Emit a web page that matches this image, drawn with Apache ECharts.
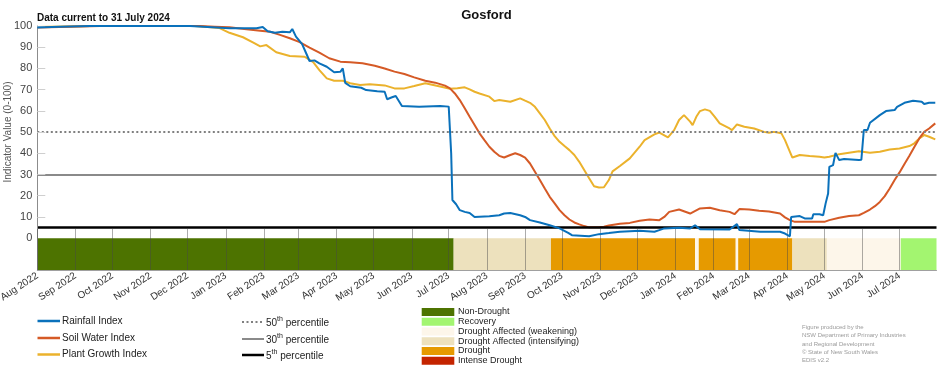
<!DOCTYPE html>
<html>
<head>
<meta charset="utf-8">
<script src="https://cdn.jsdelivr.net/npm/echarts@6/dist/echarts.min.js"></script>
<style>
html,body{margin:0;padding:0;background:#fff;}
#chart{width:952px;height:370px;}
</style>
</head>
<body>
<div id="chart"></div>
<script>
// ---------------- DATA ----------------
const chartTitle = 'Gosford';
const dataNote = 'Data current to 31 July 2024';
const seriesNames = ['Rainfall Index', 'Soil Water Index', 'Plant Growth Index'];

const monthTickDates = ['2022-08-01','2022-09-01','2022-10-01','2022-11-01','2022-12-01','2023-01-01','2023-02-01','2023-03-01','2023-04-01','2023-05-01','2023-06-01','2023-07-01','2023-08-01','2023-09-01','2023-10-01','2023-11-01','2023-12-01','2024-01-01','2024-02-01','2024-03-01','2024-04-01','2024-05-01','2024-06-01','2024-07-01'];
const monthLabels = ['Aug 2022','Sep 2022','Oct 2022','Nov 2022','Dec 2022','Jan 2023','Feb 2023','Mar 2023','Apr 2023','May 2023','Jun 2023','Jul 2023','Aug 2023','Sep 2023','Oct 2023','Nov 2023','Dec 2023','Jan 2024','Feb 2024','Mar 2024','Apr 2024','May 2024','Jun 2024','Jul 2024'];
const yTickValues = [0, 10, 20, 30, 40, 50, 60, 70, 80, 90, 100];

const rainfall = [
 ['2022-08-01',99.3],['2022-08-19',99.6],['2022-09-13',100],['2022-12-03',100],['2023-01-04',98.9],['2023-01-26',98.9],
 ['2023-01-31',99.5],['2023-02-04',97.5],['2023-02-10',96.8],['2023-02-16',97.3],['2023-02-22',97.0],['2023-02-24',98.6],
 ['2023-02-27',95.0],['2023-03-04',91.5],['2023-03-07',87.5],['2023-03-10',83.5],['2023-03-14',83.8],['2023-03-18',82.4],
 ['2023-03-24',80.8],['2023-03-30',78.2],['2023-04-04',78.4],['2023-04-06',80.0],['2023-04-08',73.2],['2023-04-12',71.6],
 ['2023-04-21',70.9],['2023-04-25',69.8],['2023-05-04',69.3],['2023-05-10',69.0],['2023-05-12',65.5],['2023-05-16',66.4],
 ['2023-05-19',67.0],['2023-05-24',62.3],['2023-06-07',61.9],['2023-06-24',62.3],['2023-07-01',62.0],['2023-07-03',40.0],
 ['2023-07-04',18.0],['2023-07-07',16.0],['2023-07-10',13.2],['2023-07-14',12.4],['2023-07-18',11.9],['2023-07-22',10.0],
 ['2023-08-03',10.3],['2023-08-11',10.8],['2023-08-15',11.6],['2023-08-20',11.9],['2023-08-28',10.8],['2023-09-01',10.0],
 ['2023-09-05',8.5],['2023-09-13',7.4],['2023-09-21',6.1],['2023-09-29',4.6],['2023-10-06',2.5],['2023-10-09',1.4],
 ['2023-10-23',0.9],['2023-10-31',1.9],['2023-11-08',2.4],['2023-11-17',3.0],['2023-12-03',3.5],['2023-12-15',3.0],
 ['2023-12-19',3.8],['2023-12-23',4.6],['2024-01-04',4.9],['2024-01-13',4.6],['2024-01-17',6.1],['2024-01-21',4.2],
 ['2024-02-14',4.1],['2024-02-20',6.6],['2024-02-22',3.8],['2024-03-10',3.0],['2024-03-26',3.0],['2024-03-30',2.2],
 ['2024-04-03',0.9],['2024-04-04',10.0],['2024-04-11',10.4],['2024-04-15',9.3],['2024-04-21',9.3],['2024-04-22',11.3],
 ['2024-04-27',11.3],['2024-04-30',10.8],['2024-05-02',16.4],['2024-05-04',21.0],['2024-05-05',33.6],['2024-05-08',34.4],
 ['2024-05-10',40.2],['2024-05-13',36.8],['2024-05-17',37.3],['2024-05-29',36.8],['2024-05-31',37.0],['2024-06-02',51.0],
 ['2024-06-05',51.0],['2024-06-07',54.4],['2024-06-15',58.0],['2024-06-20',59.9],['2024-06-27',60.4],['2024-06-29',61.9],
 ['2024-07-05',63.8],['2024-07-12',64.8],['2024-07-19',64.3],['2024-07-21',63.2],['2024-07-25',63.8],['2024-07-30',63.8]
];

const soilWater = [
 ['2022-08-01',99.3],['2022-08-19',99.5],['2022-09-21',100],['2022-12-11',100],['2022-12-23',99.7],['2023-01-04',99.4],
 ['2023-01-16',98.6],['2023-01-29',97.8],['2023-02-06',97.3],['2023-02-14',95.8],['2023-02-22',94.2],['2023-03-02',92.4],
 ['2023-03-10',89.8],['2023-03-18',87.4],['2023-03-26',84.8],['2023-04-04',83.2],['2023-04-12',82.9],['2023-04-22',82.4],
 ['2023-05-02',81.3],['2023-05-10',80.0],['2023-05-18',78.5],['2023-05-26',77.4],['2023-06-03',75.8],['2023-06-12',74.2],
 ['2023-06-20',73.3],['2023-06-28',71.9],['2023-07-02',70.6],['2023-07-06',68.2],['2023-07-10',65.1],['2023-07-14',61.2],
 ['2023-07-18',57.2],['2023-07-22',53.3],['2023-07-26',49.4],['2023-07-30',46.2],['2023-08-03',43.1],['2023-08-07',40.7],
 ['2023-08-11',38.8],['2023-08-15',38.0],['2023-08-20',39.2],['2023-08-24',40.0],['2023-08-28',39.2],['2023-09-01',38.0],
 ['2023-09-05',35.2],['2023-09-09',31.3],['2023-09-13',27.4],['2023-09-17',23.4],['2023-09-21',19.5],['2023-09-25',16.4],
 ['2023-09-29',13.2],['2023-10-03',10.8],['2023-10-07',8.8],['2023-10-11',7.4],['2023-10-15',6.5],['2023-10-19',5.7],
 ['2023-10-23',5.1],['2023-10-31',5.1],['2023-11-04',5.4],['2023-11-08',6.0],['2023-11-17',6.8],['2023-11-25',7.2],
 ['2023-12-03',8.2],['2023-12-11',8.8],['2023-12-19',8.5],['2023-12-23',10.0],['2023-12-27',12.4],['2024-01-04',13.5],
 ['2024-01-13',11.6],['2024-01-21',14.0],['2024-01-29',14.3],['2024-02-06',13.2],['2024-02-14',12.4],['2024-02-18',11.3],
 ['2024-02-22',13.7],['2024-03-01',13.5],['2024-03-09',12.9],['2024-03-17',12.6],['2024-03-26',11.6],['2024-03-30',9.8],
 ['2024-04-03',8.5],['2024-04-07',7.7],['2024-05-01',7.7],['2024-05-05',8.5],['2024-05-13',9.6],['2024-05-21',10.4],
 ['2024-05-29',10.8],['2024-06-02',11.9],['2024-06-07',13.5],['2024-06-11',15.1],['2024-06-15',17.1],['2024-06-19',19.8],
 ['2024-06-23',23.4],['2024-06-27',27.4],['2024-07-01',31.0],['2024-07-05',35.0],['2024-07-09',38.8],['2024-07-13',43.0],
 ['2024-07-17',47.0],['2024-07-21',50.1],['2024-07-25',51.7],['2024-07-30',54.1]
];

const plantGrowth = [
 ['2022-08-01',99.5],['2022-09-13',100],['2022-12-07',100],['2022-12-15',99.6],['2022-12-27',99.0],['2023-01-04',96.8],
 ['2023-01-15',94.7],['2023-01-23',92.3],['2023-01-29',90.4],['2023-02-03',91.0],['2023-02-11',87.6],['2023-02-22',85.9],
 ['2023-03-06',85.5],['2023-03-13',83.0],['2023-03-18',79.2],['2023-03-24',75.3],['2023-03-30',74.2],['2023-04-06',74.2],
 ['2023-04-12',73.0],['2023-04-20',72.2],['2023-04-28',72.6],['2023-05-10',72.0],['2023-05-18',70.6],['2023-05-26',70.6],
 ['2023-06-03',71.7],['2023-06-12',73.0],['2023-06-24',71.5],['2023-07-02',70.4],['2023-07-08',70.7],['2023-07-14',71.1],
 ['2023-07-18',70.1],['2023-07-22',69.0],['2023-07-26',68.2],['2023-08-03',66.7],['2023-08-07',64.6],['2023-08-11',65.1],
 ['2023-08-20',64.3],['2023-08-28',65.9],['2023-09-01',64.8],['2023-09-05',63.8],['2023-09-09',61.9],['2023-09-13',58.8],
 ['2023-09-17',55.7],['2023-09-21',51.7],['2023-09-25',48.1],['2023-09-29',45.4],['2023-10-03',43.4],['2023-10-07',41.5],
 ['2023-10-11',39.2],['2023-10-15',36.0],['2023-10-19',32.1],['2023-10-23',28.2],['2023-10-27',24.5],['2023-10-31',23.9],
 ['2023-11-04',24.0],['2023-11-08',27.4],['2023-11-11',31.5],['2023-11-17',34.0],['2023-11-25',37.6],['2023-12-03',43.1],
 ['2023-12-07',46.2],['2023-12-15',48.9],['2023-12-19',49.8],['2023-12-26',47.5],['2023-12-31',50.9],['2024-01-04',55.7],
 ['2024-01-08',58.0],['2024-01-13',54.9],['2024-01-15',53.3],['2024-01-18',57.2],['2024-01-21',59.9],['2024-01-25',60.7],
 ['2024-01-29',60.0],['2024-02-02',57.2],['2024-02-06',54.1],['2024-02-14',51.7],['2024-02-16',50.9],['2024-02-20',53.6],
 ['2024-02-26',52.5],['2024-03-05',51.7],['2024-03-13',50.1],['2024-03-17',49.7],['2024-03-21',50.1],['2024-03-27',49.5],
 ['2024-03-30',46.2],['2024-04-03',40.7],['2024-04-05',38.0],['2024-04-11',39.2],['2024-04-19',38.7],['2024-04-27',38.4],
 ['2024-05-01',38.0],['2024-05-05',38.4],['2024-05-13',39.6],['2024-05-21',40.3],['2024-05-29',41.0],['2024-06-07',40.3],
 ['2024-06-15',40.7],['2024-06-23',41.8],['2024-07-01',42.3],['2024-07-09',43.4],['2024-07-13',44.7],['2024-07-17',47.0],
 ['2024-07-21',48.6],['2024-07-25',47.8],['2024-07-30',46.6]
];

const percentileValues = [50, 30, 5];
const percentileNames = ['50', '30', '5'];

const bandStart = ['2022-08-01','2023-07-05','2023-09-22','2024-01-17','2024-01-20','2024-02-19','2024-02-21','2024-04-05','2024-05-03','2024-07-02'];
const bandEnd   = ['2023-07-05','2023-09-22','2024-01-17','2024-01-20','2024-02-19','2024-02-21','2024-04-05','2024-05-03','2024-07-02','2024-07-31'];
const bandStatus = ['Non-Drought','Drought Affected (intensifying)','Drought','Drought Affected (weakening)','Drought','Drought Affected (weakening)','Drought','Drought Affected (intensifying)','Drought Affected (weakening)','Recovery'];

const droughtCategories = ['Non-Drought','Recovery','Drought Affected (weakening)','Drought Affected (intensifying)','Drought','Intense Drought'];
const creditLines = ['Figure produced by the','NSW Department of Primary Industries','and Regional Development','\u00A9 State of New South Wales','EDIS v2.2'];

// ---------------- STYLE ----------------
const FONT = "'Liberation Sans', Arial, sans-serif";
const lineColors = ['#0a71bb', '#d55a26', '#ebb22c'];
const catColors = {
  'Non-Drought': '#4d7300',
  'Recovery': '#a3f570',
  'Drought Affected (weakening)': '#fdf6ea',
  'Drought Affected (intensifying)': '#ede1bd',
  'Drought': '#e69a00',
  'Intense Drought': '#c42400'
};
const pctStyles = [
  {color: '#808080', width: 2, type: [2, 2.5]},
  {color: '#8a8a8a', width: 2, type: 'solid'},
  {color: '#000000', width: 2.5, type: 'solid'}
];

function parseLocal(s) {
  const p = s.split('-').map(Number);
  return new Date(p[0], p[1] - 1, p[2]).getTime();
}
const toTs = arr => arr.map(d => [parseLocal(d[0]), d[1]]);
const monthTicks = monthTickDates.map(parseLocal);
const xMin = parseLocal('2022-08-01');
const xMax = parseLocal('2024-07-31');

const bandData = bandStart.map((s, i) => [parseLocal(s), parseLocal(bandEnd[i]), i]);

// ---------------- CHART ----------------
const chart = echarts.init(document.getElementById('chart'), null, {renderer: 'canvas'});

const graphics = [];
graphics.push({type: 'text', x: 486.5, y: 15, style: {text: chartTitle, font: 'bold 13px ' + FONT, fill: '#111', align: 'center', verticalAlign: 'middle'}});
graphics.push({type: 'text', x: 37, y: 18.5, style: {text: dataNote, font: 'bold 10px ' + FONT, fill: '#111', align: 'left', verticalAlign: 'middle'}});
graphics.push({type: 'text', x: 8, y: 132, rotation: Math.PI / 2, style: {text: 'Indicator Value (0-100)', font: '10px ' + FONT, fill: '#555', align: 'center', verticalAlign: 'middle'}});

const legY = [321, 338, 354.5];
seriesNames.forEach((n, i) => {
  graphics.push({type: 'line', shape: {x1: 37.5, y1: legY[i], x2: 60, y2: legY[i]}, style: {stroke: lineColors[i], lineWidth: 2.5}});
  graphics.push({type: 'text', x: 62, y: legY[i], style: {text: n, font: '10px ' + FONT, fill: '#222', align: 'left', verticalAlign: 'middle'}});
});
const pctY = [322, 339, 355];
percentileNames.forEach((n, i) => {
  const st = pctStyles[i];
  graphics.push({type: 'line', shape: {x1: 242, y1: pctY[i], x2: 264, y2: pctY[i]}, style: {stroke: st.color, lineWidth: st.width, lineDash: Array.isArray(st.type) ? st.type : null}});
  graphics.push({type: 'text', x: 266, y: pctY[i] + 1, style: {
    text: '{n|' + n + '}{s|th}{n| percentile}',
    align: 'left', verticalAlign: 'middle',
    rich: {
      n: {font: '10px ' + FONT, fill: '#222'},
      s: {font: '7px ' + FONT, fill: '#222', padding: [0, 0, 7, 0]}
    }
  }});
});
const dY0 = 312, dStep = 9.75;
droughtCategories.forEach((c, i) => {
  const cy = dY0 + i * dStep;
  graphics.push({type: 'rect', shape: {x: 421.7, y: cy - 4, width: 32.6, height: 8}, style: {fill: catColors[c]}});
  graphics.push({type: 'text', x: 458, y: cy, style: {text: c, font: '9px ' + FONT, fill: '#222', align: 'left', verticalAlign: 'middle'}});
});
creditLines.forEach((t, i) => {
  graphics.push({type: 'text', x: 802, y: 327.3 + i * 8.35, style: {text: t, font: '6px ' + FONT, fill: '#9a9a9a', align: 'left', verticalAlign: 'middle'}});
});

const option = {
  animation: false,
  backgroundColor: '#fff',
  textStyle: {fontFamily: FONT},
  grid: {left: 37.3, right: 15.5, top: 26, bottom: 100, containLabel: false, outerBoundsMode: 'none'},
  xAxis: {
    type: 'value', min: xMin, max: xMax, z: 5, scale: true,
    axisLine: {show: true, onZero: false, lineStyle: {color: '#a0a0a0', width: 1}},
    axisTick: {show: true, inside: true, length: 41, customValues: monthTicks, lineStyle: {color: 'rgba(70,70,70,0.45)', width: 1}},
    axisLabel: {
      customValues: monthTicks, rotate: 33, fontSize: 10, color: '#333', margin: 5, fontFamily: FONT,
      hideOverlap: false, showMinLabel: true, showMaxLabel: true,
      formatter: function (v) {
        const i = monthTicks.indexOf(v);
        return i >= 0 ? monthLabels[i] : '';
      }
    },
    splitLine: {show: false}
  },
  yAxis: {
    type: 'value', min: -15, max: 100, z: 5,
    axisLine: {show: true, lineStyle: {color: '#8c8c8c', width: 1}},
    axisTick: {show: true, inside: true, length: 8, customValues: yTickValues.slice(1), lineStyle: {color: '#cfcfcf'}},
    axisLabel: {customValues: yTickValues, fontSize: 11, color: '#444', margin: 5, fontFamily: FONT},
    splitLine: {show: false}
  },
  graphic: graphics,
  series: [
    {
      type: 'custom', name: 'Drought status', z: 1, silent: true,
      encode: {x: [0, 1]},
      data: bandData,
      renderItem: function (params, api) {
        const s = api.coord([api.value(0), 0]);
        const e = api.coord([api.value(1), -15]);
        const status = bandStatus[api.value(2)];
        return {type: 'rect', shape: {x: s[0], y: s[1], width: e[0] - s[0], height: e[1] - s[1]}, style: {fill: catColors[status]}};
      }
    },
    {
      type: 'line', name: 'percentiles', data: [], z: 1, silent: true,
      markLine: {
        silent: true, symbol: ['none', 'none'], label: {show: false},
        data: percentileValues.map((v, i) => ({yAxis: v, lineStyle: {color: pctStyles[i].color, width: pctStyles[i].width, type: pctStyles[i].type}}))
      }
    },
    {type: 'line', name: seriesNames[2], data: toTs(plantGrowth), showSymbol: false, z: 3, lineStyle: {color: lineColors[2], width: 2}, itemStyle: {color: lineColors[2]}},
    {type: 'line', name: seriesNames[1], data: toTs(soilWater), showSymbol: false, z: 4, lineStyle: {color: lineColors[1], width: 2}, itemStyle: {color: lineColors[1]}},
    {type: 'line', name: seriesNames[0], data: toTs(rainfall), showSymbol: false, z: 5, lineStyle: {color: lineColors[0], width: 2}, itemStyle: {color: lineColors[0]}}
  ]
};
chart.setOption(option);
</script>
</body>
</html>
